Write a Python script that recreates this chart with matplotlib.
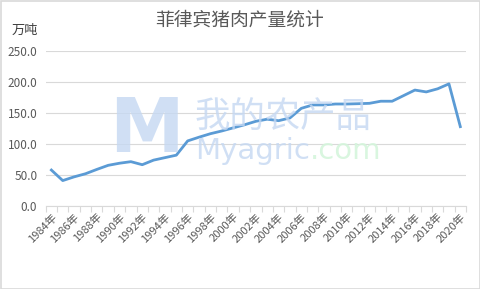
import matplotlib
matplotlib.use("Agg")
import matplotlib.pyplot as plt
import numpy as np
from matplotlib.patches import Rectangle

plt.rcParams['font.family'] = ['Noto Sans CJK SC', 'DejaVu Sans']

years = list(range(1984, 2021))
values = [58, 41, 47, 52, 59, 65.6, 69, 71.5, 66.6, 74, 78, 82, 105, 111, 116.6, 121,
          126, 131, 136.6, 140, 137.6, 142, 157.5, 163, 163, 164.5, 164.5, 165, 165.6,
          169, 169, 178, 187, 184, 189, 197, 128]
tick_labels = [f"{y}年" if (y - 1984) % 2 == 0 else "" for y in years]
yticks = [0, 50, 100, 150, 200, 250]

W, H = 481, 289
fig = plt.figure(figsize=(W / 100, H / 100), dpi=100)
fig.patches.append(Rectangle((0.5 / W, 0.5 / H), 1 - 1.5 / W, 1 - 1.5 / H, transform=fig.transFigure,
                             fill=False, edgecolor='#d9d9d9', linewidth=1.2))

ax = fig.add_axes([45.7 / W, 1 - 206 / H, (466 - 45.7) / W, (206 - 51) / H])
x = np.arange(len(years))
ax.plot(x, values, color='#5b9bd5', linewidth=2.0, solid_joinstyle='round', zorder=3)

ax.set_xlim(-0.5, len(years) - 0.5)
ax.set_ylim(0, 250)
ax.set_yticks(yticks)
ax.set_yticklabels([f"{v:.1f}" for v in yticks])
ax.grid(axis='y', color='#d9d9d9', linewidth=0.8, zorder=0)
ax.set_axisbelow(True)
for s in ['top', 'right', 'left']:
    ax.spines[s].set_visible(False)
ax.spines['bottom'].set_color('#d9d9d9')
ax.spines['bottom'].set_linewidth(0.8)
ax.tick_params(axis='y', length=0, labelsize=8.5, labelcolor='#595959', pad=6)

ax.set_xticks(np.arange(-0.5, len(years) + 0.5, 1), minor=True)
ax.tick_params(axis='x', which='minor', length=4, color='#d9d9d9', width=0.8)
ax.set_xticks(x)
ax.set_xticklabels(tick_labels, rotation=45, ha='right', va='top', rotation_mode='anchor')
ax.tick_params(axis='x', which='major', length=0, labelsize=8, labelcolor='#595959', pad=4)

fig.text(240 / W, 1 - 20 / H, "菲律宾猪肉产量统计", ha='center', va='center', fontsize=13.5, color='#595959')
fig.text(12 / W, 1 - 30 / H, "万吨", ha='left', va='center', fontsize=9.5, color='#404040')

# watermark
fig.text(146 / W, 1 - 132 / H, "M", ha='center', va='center', fontsize=54, fontweight='bold',
         color='#c5d8f2', alpha=0.8, family='DejaVu Sans', zorder=0)
fig.text(195 / W, 1 - 118 / H, "我的农产品", ha='left', va='center', fontsize=25.5, color='#c5d8f2', alpha=0.8)
t1 = fig.text(195 / W, 1 - 151 / H, "Myagric", ha='left', va='center', fontsize=21, color='#c5d8f2', alpha=0.8,
              family='DejaVu Sans')
fig.canvas.draw()
bb = t1.get_window_extent()
fig.text(bb.x1 / W, 1 - 151 / H, ".com", ha='left', va='center', fontsize=21, color='#d5f5dc', alpha=0.9,
         family='DejaVu Sans')

fig.savefig("out.png", dpi=100)
